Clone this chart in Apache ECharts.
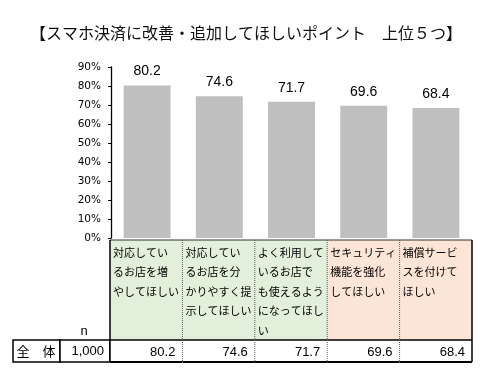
<!DOCTYPE html>
<html>
<head>
<meta charset="utf-8">
<script src="https://cdn.jsdelivr.net/npm/echarts@6/dist/echarts.min.js"></script>
<style>html,body{margin:0;padding:0;background:#fff}#c{width:500px;height:387px}</style>
</head>
<body>
<div id="c"></div>
<script>
var titleText = '【スマホ決済に改善・追加してほしいポイント　上位５つ】';
var categories = [
  '対応してい\nるお店を増\nやしてほしい',
  '対応してい\nるお店を分\nかりやすく提\n示してほしい',
  'よく利用して\nいるお店で\nも使えるよう\nになってほし\nい',
  'セキュリティ\n機能を強化\nしてほしい',
  '補償サービ\nスを付けて\nほしい'
];
var values = [80.2, 74.6, 71.7, 69.6, 68.4];
var cellColors = ['#e2efda', '#e2efda', '#e2efda', '#fce4d6', '#fce4d6'];
var rowLabel = '全\u3000体';
var rowN = '1,000';
var yTicks = [0, 10, 20, 30, 40, 50, 60, 70, 80, 90];

var chart = echarts.init(document.getElementById('c'));
var JP = '"Noto Sans CJK JP"';
var ARIAL = '"Liberation Sans", Arial, sans-serif';

chart.setOption({
  animation: false,
  title: {
    text: titleText,
    left: 25, top: 20,
    textStyle: { fontFamily: JP, fontSize: 16, fontWeight: 'normal', color: '#111' }
  },
  grid: [
    { left: 111, right: 28, top: 67, height: 171 },
    { left: 110, right: 28, top: 240, height: 122 }
  ],
  xAxis: [
    { type: 'category', gridIndex: 0, data: categories, axisLine: { show: false }, axisTick: { show: false }, axisLabel: { show: false } },
    { type: 'category', gridIndex: 1, data: categories, show: false }
  ],
  yAxis: [
    {
      type: 'value', gridIndex: 0, min: yTicks[0], max: yTicks[yTicks.length - 1], interval: 10,
      axisLine: { show: true, lineStyle: { color: '#000', width: 1.3 } },
      axisTick: { show: true, length: 3, lineStyle: { color: '#000' } },
      splitLine: { show: false },
      axisLabel: { formatter: '{value}%', fontFamily: '"DejaVu Sans"', fontSize: 10.5, color: '#000', margin: 10 }
    },
    { type: 'value', gridIndex: 1, min: 0, max: 122, inverse: true, show: false }
  ],
  graphic: [
    { type: 'rect', shape: { x: 13, y: 340, width: 47, height: 22 }, style: { fill: '#fff', stroke: '#000', lineWidth: 1.5 } },
    { type: 'rect', shape: { x: 60, y: 340, width: 50, height: 22 }, style: { fill: '#fff', stroke: '#000', lineWidth: 1.5 } },
    { type: 'text', x: 36, y: 351, style: { text: rowLabel, font: '13px ' + JP, fill: '#000', align: 'center', verticalAlign: 'middle' } },
    { type: 'text', x: 104, y: 351, style: { text: rowN, font: '13px ' + ARIAL, fill: '#000', align: 'right', verticalAlign: 'middle' } },
    { type: 'text', x: 84, y: 331, style: { text: 'n', font: '13px ' + ARIAL, fill: '#000', align: 'center', verticalAlign: 'middle' } }
  ],
  series: [
    {
      type: 'bar', xAxisIndex: 0, yAxisIndex: 0, data: values, barWidth: '65%',
      itemStyle: { color: '#bfbfbf' },
      label: { show: true, position: 'top', distance: 7, fontFamily: ARIAL, fontSize: 14, color: '#000', formatter: function (p) { return p.value.toFixed(1); } }
    },
    {
      type: 'custom', xAxisIndex: 1, yAxisIndex: 1,
      data: values.map(function (v, i) { return [i, v]; }),
      renderItem: function (params, api) {
        var i = api.value(0);
        var bw = api.size([1, 0])[0];
        var cx = api.coord([i, 0])[0];
        var x0 = cx - bw / 2, x1 = cx + bw / 2;
        var yTop = api.coord([i, 0])[1];
        var yMid = api.coord([i, 100])[1];
        var yBot = api.coord([i, 122])[1];
        var last = i === categories.length - 1;
        var sepStyle = { stroke: '#555', lineWidth: 1, lineDash: [1, 1] };
        var solid = { stroke: '#000', lineWidth: 1.5 };
        var children = [
          { type: 'rect', shape: { x: x0, y: yTop, width: bw, height: yMid - yTop }, style: { fill: cellColors[i] } },
          { type: 'text', style: { text: categories[i], x: x0 + 3, y: yTop + 3, font: '11px ' + JP, lineHeight: 19.5, fill: '#000', verticalAlign: 'top', align: 'left' } },
          { type: 'rect', shape: { x: x0, y: yMid, width: bw, height: yBot - yMid }, style: { fill: '#fff' } },
          { type: 'text', style: { text: api.value(1).toFixed(1), x: x1 - 7, y: (yMid + yBot) / 2 + 1, font: '13px ' + ARIAL, fill: '#000', align: 'right', verticalAlign: 'middle' } },
          { type: 'line', shape: { x1: x0, y1: yTop, x2: x1, y2: yTop }, style: { stroke: '#333', lineWidth: 1 } },
          { type: 'line', shape: { x1: x0, y1: yMid, x2: x1, y2: yMid }, style: solid },
          { type: 'line', shape: { x1: x0, y1: yBot, x2: x1, y2: yBot }, style: { stroke: '#000', lineWidth: 2 } },
          { type: 'line', shape: { x1: x0, y1: yTop, x2: x0, y2: yBot }, style: i === 0 ? solid : sepStyle }
        ];
        if (last) {
          children.push({ type: 'line', shape: { x1: x1, y1: yTop, x2: x1, y2: yBot }, style: solid });
        }
        return { type: 'group', children: children };
      }
    }
  ]
});
</script>
</body>
</html>
